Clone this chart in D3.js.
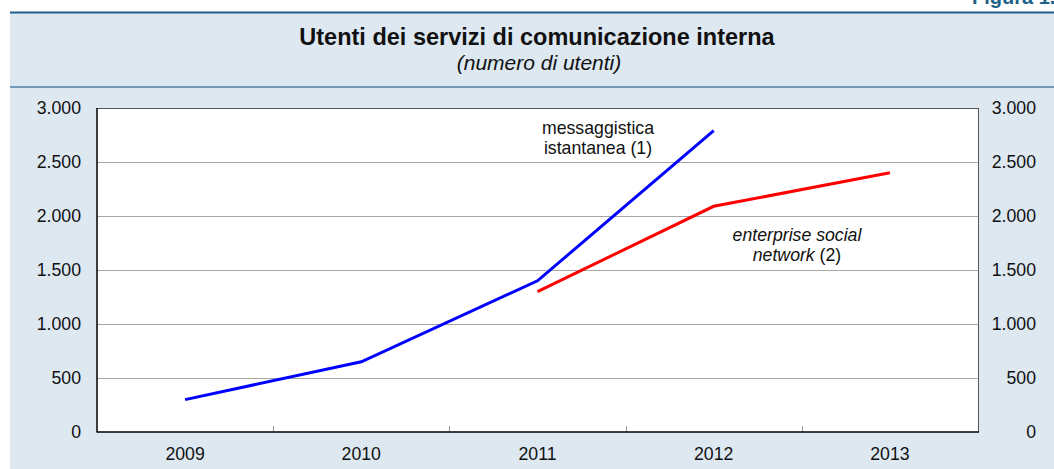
<!DOCTYPE html>
<html><head><meta charset="utf-8">
<script src="https://cdn.jsdelivr.net/npm/d3@7"></script>
<style>body{margin:0;background:#fff}svg{display:block}text{font-family:"Liberation Sans",Arial,Helvetica,sans-serif}</style>
</head><body>
<svg id="c" width="1054" height="469"></svg>
<script>
const categories = ["2009","2010","2011","2012","2013"];
const instantMessaging = [300, 650, 1400, 2790, null];
const enterpriseSocial = [null, null, 1300, 2090, 2400];
const yTicks = [0, 500, 1000, 1500, 2000, 2500, 3000];
const yTickLabels = ["0","500","1.000","1.500","2.000","2.500","3.000"];

const svg = d3.select("#c");
const W = 1054, H = 469;
const L = 97, R = 978, T = 108, B = 432;

// panel background
svg.append("rect").attr("x",10).attr("y",12).attr("width",W-10).attr("height",H-12).attr("fill","#dde8f1");
svg.append("line").attr("x1",10).attr("x2",W).attr("y1",12.5).attr("y2",12.5).attr("stroke","#1d5f86").attr("stroke-width",2);
svg.append("line").attr("x1",10).attr("x2",W).attr("y1",87).attr("y2",87).attr("stroke","#4f82a6").attr("stroke-width",1.5);
svg.append("text").attr("x",972).attr("y",4).attr("font-size",20).attr("font-weight","bold").attr("fill","#1d5f86").text("Figura 1.");

// titles
svg.append("text").attr("x",537).attr("y",45).attr("text-anchor","middle").attr("font-size",23.5).attr("font-weight","bold").attr("fill","#111").text("Utenti dei servizi di comunicazione interna");
svg.append("text").attr("x",539).attr("y",70).attr("text-anchor","middle").attr("font-size",21).attr("font-style","italic").attr("fill","#111").text("(numero di utenti)");

const x = d3.scaleBand().domain(categories).range([L,R]).padding(0);
const y = d3.scaleLinear().domain([0,3000]).range([B,T]);

// plot bg
svg.append("rect").attr("x",L).attr("y",T).attr("width",R-L).attr("height",B-T).attr("fill","#fff");

// grid
svg.append("g").selectAll("line").data(yTicks.filter(d=>d>0 && d<3000)).join("line")
  .attr("x1",L).attr("x2",R).attr("y1",d=>Math.round(y(d))+0.5).attr("y2",d=>Math.round(y(d))+0.5)
  .attr("stroke","#a6a6a6").attr("stroke-width",1);

// border top/right
svg.append("line").attr("x1",L).attr("x2",R).attr("y1",T+0.5).attr("y2",T+0.5).attr("stroke","#555").attr("stroke-width",1);
svg.append("line").attr("x1",R+0.5).attr("x2",R+0.5).attr("y1",T).attr("y2",B).attr("stroke","#555").attr("stroke-width",1);

// category boundary ticks
svg.append("g").selectAll("line").data(categories.slice(1)).join("line")
  .attr("x1",d=>Math.round(x(d))+0.5).attr("x2",d=>Math.round(x(d))+0.5).attr("y1",B).attr("y2",B-6)
  .attr("stroke","#999").attr("stroke-width",1);

// axes lines
svg.append("line").attr("x1",L).attr("x2",L).attr("y1",T).attr("y2",B+0.5).attr("stroke","#000").attr("stroke-width",1.5);
svg.append("line").attr("x1",L).attr("x2",R+1).attr("y1",B).attr("y2",B).attr("stroke","#000").attr("stroke-width",1.5);

// y labels
const fs = 17.7;
svg.append("g").selectAll("text").data(yTicks).join("text")
  .attr("x",81).attr("y",d=>y(d)).attr("dy","0.36em").attr("text-anchor","end").attr("font-size",fs).attr("fill","#111")
  .text((d,i)=>yTickLabels[i]);
svg.append("g").selectAll("text").data(yTicks).join("text")
  .attr("x",1036).attr("y",d=>y(d)).attr("dy","0.36em").attr("text-anchor","end").attr("font-size",fs).attr("fill","#111")
  .text((d,i)=>yTickLabels[i]);

// x labels
svg.append("g").selectAll("text").data(categories).join("text")
  .attr("x",d=>x(d)+x.bandwidth()/2).attr("y",B+28).attr("text-anchor","middle").attr("font-size",fs).attr("fill","#111").text(d=>d);

const line = d3.line().defined(d=>d[1]!=null).x(d=>x(d[0])+x.bandwidth()/2).y(d=>y(d[1]));
svg.append("path").datum(categories.map((c,i)=>[c,instantMessaging[i]])).attr("d",line)
  .attr("fill","none").attr("stroke","#0000ff").attr("stroke-width",3);
svg.append("path").datum(categories.map((c,i)=>[c,enterpriseSocial[i]])).attr("d",line)
  .attr("fill","none").attr("stroke","#ff0000").attr("stroke-width",3);

// annotations
const a1 = svg.append("text").attr("text-anchor","middle").attr("font-size",fs).attr("fill","#111");
a1.append("tspan").attr("x",598).attr("y",134).text("messaggistica");
a1.append("tspan").attr("x",598).attr("y",154).text("istantanea (1)");
const a2 = svg.append("text").attr("text-anchor","middle").attr("font-size",fs).attr("fill","#111");
a2.append("tspan").attr("x",797).attr("y",241).attr("font-style","italic").text("enterprise social");
const t2 = a2.append("tspan").attr("x",797).attr("y",261);
t2.append("tspan").attr("font-style","italic").text("network");
t2.append("tspan").text(" (2)");
</script>
</body></html>
